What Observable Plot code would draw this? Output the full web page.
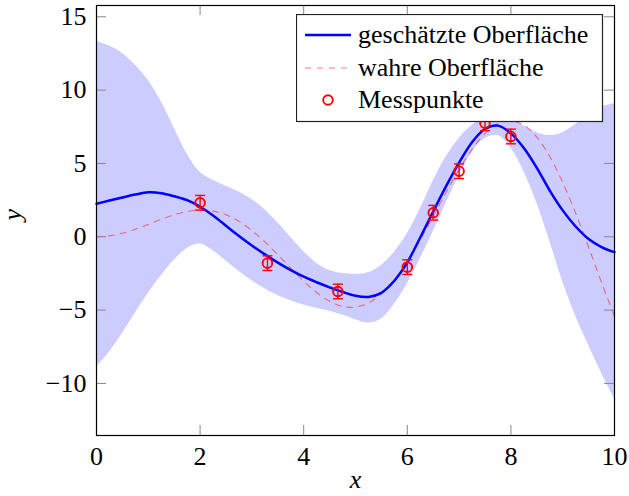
<!DOCTYPE html>
<html>
<head>
<meta charset="utf-8">
<script src="https://cdn.jsdelivr.net/npm/d3@7"></script>
<script src="https://cdn.jsdelivr.net/npm/@observablehq/plot@0.6"></script>
<style>
  body { margin: 0; background: #fff; }
  #chart { position: relative; width: 629px; height: 496px; font-family: "Liberation Serif", "Times New Roman", serif; }
  #legend { position: absolute; left: 296px; top: 14px; }
</style>
</head>
<body>
<div id="chart"></div>
<script>
// Sample positions along x for the curves
const gridX = [0, 0.25, 0.5, 0.75, 1, 1.25, 1.5, 1.75, 2, 2.25, 2.5, 2.75, 3, 3.25, 3.5, 3.75, 4, 4.25, 4.5, 4.75,
  5, 5.25, 5.5, 5.75, 6, 6.25, 6.5, 6.75, 7, 7.25, 7.5, 7.75, 8, 8.25, 8.5, 8.75, 9, 9.25, 9.5, 9.75, 10];

// Estimated surface (mean)
const meanY = [2.25, 2.47, 2.68, 2.88, 3.03, 2.97, 2.76, 2.5, 2.05, 1.45, 0.75, 0.05, -0.6, -1.2, -1.76, -2.27,
  -2.72, -3.1, -3.45, -3.76, -4.02, -4.1, -3.82, -3.0, -1.75, -0.05, 1.72, 3.45, 5.05, 6.45, 7.35, 7.58,
  7.05, 6.05, 4.7, 3.15, 1.8, 0.7, -0.15, -0.7, -1.05];

// Confidence band, upper and lower limit
const upperY = [13.33, 13.0, 12.5, 11.7, 10.65, 9.2, 7.4, 5.65, 4.4, 3.85, 3.45, 3.05, 2.55, 1.85, 0.95, -0.05,
  -1.0, -1.8, -2.3, -2.5, -2.55, -2.45, -1.95, -1.05, 0.2, 1.9, 3.8, 5.45, 6.7, 7.6, 8.15, 8.3,
  8.05, 7.55, 7.1, 6.9, 7.1, 7.65, 8.35, 8.85, 9.07];
const lowerY = [-8.89, -7.85, -6.6, -5.2, -3.85, -2.65, -1.6, -0.8, -0.5, -0.95, -1.65, -2.35, -3.0, -3.55, -4.0, -4.37,
  -4.65, -4.88, -5.08, -5.33, -5.65, -5.88, -5.6, -4.6, -3.2, -1.5, 0.35, 2.3, 4.15, 5.75, 6.7, 6.9,
  6.05, 4.45, 2.3, -0.3, -3.05, -5.4, -7.4, -9.3, -11.04];

// True surface
const trueY = [0, 0.06, 0.24, 0.51, 0.84, 1.19, 1.5, 1.72, 1.82, 1.75, 1.5, 1.05, 0.42, -0.35, -1.23, -2.14,
  -3.03, -3.8, -4.4, -4.75, -4.79, -4.51, -3.88, -2.91, -1.68, -0.21, 1.4, 3.04, 4.6, 5.96, 7.04, 7.71,
  7.91, 7.61, 6.79, 5.47, 3.71, 1.61, -0.71, -3.12, -5.44];

// Measurement points with error
const obsX = [2.0, 3.3, 4.66, 6.0, 6.5, 7.0, 7.5, 8.0];
const obsY = [2.32, -1.8, -3.73, -2.07, 1.64, 4.47, 7.74, 6.84];
const obsErr = [0.5, 0.5, 0.5, 0.5, 0.5, 0.5, 0.5, 0.5];

// Axis ticks
const xTicks = [0, 2, 4, 6, 8, 10];
const yTicks = [-10, -5, 0, 5, 10, 15];

const legendLabels = ["geschätzte Oberfläche", "wahre Oberfläche", "Messpunkte"];

const curve = gridX.map((x, i) => ({x, mean: meanY[i], lo: lowerY[i], hi: upperY[i], tru: trueY[i]}));
const obs = obsX.map((x, i) => ({x, y: obsY[i], e: obsErr[i]}));

const W = 629, H = 496;
const mL = 96, mR = 15, mT = 5, mB = 61;
const innerW = W - mL - mR, innerH = H - mT - mB;
const tickLen = 10;
const fs = 26;
const fmt = d => d < 0 ? "\u2212" + Math.abs(d) : String(d);

// short horizontal stroke used for error bar caps
const cap = { draw(ctx) { ctx.moveTo(-5, 0); ctx.lineTo(5, 0); } };

const chart = Plot.plot({
  width: W, height: H,
  marginLeft: mL, marginRight: mR, marginTop: mT, marginBottom: mB,
  style: { fontFamily: "'Liberation Serif', 'Times New Roman', serif", fontSize: fs + "px", background: "#fff", color: "#000" },
  x: { domain: [0, 10] },
  y: { domain: [-13.55, 15.77] },
  marks: [
    Plot.areaY(curve, { x: "x", y1: "lo", y2: "hi", fill: "#ccccff", curve: "catmull-rom" }),
    Plot.line(curve, { x: "x", y: "tru", stroke: "red", strokeOpacity: 0.5, strokeWidth: 1.1, strokeDasharray: "6,6", curve: "catmull-rom" }),
    Plot.line(curve, { x: "x", y: "mean", stroke: "#0000ff", strokeWidth: 2.5, curve: "catmull-rom" }),
    Plot.ruleX(obs, { x: "x", y1: d => d.y - d.e, y2: d => d.y + d.e, stroke: "red", strokeWidth: 1.4 }),
    Plot.dot(obs, { x: "x", y: d => d.y + d.e, symbol: cap, fill: "none", stroke: "red", strokeWidth: 1.4 }),
    Plot.dot(obs, { x: "x", y: d => d.y - d.e, symbol: cap, fill: "none", stroke: "red", strokeWidth: 1.4 }),
    Plot.dot(obs, { x: "x", y: "y", r: 4.8, fill: "none", stroke: "red", strokeWidth: 1.9 }),
    // inward ticks on all four sides
    Plot.tickX(xTicks, { x: d => d, insetTop: innerH - tickLen, stroke: "#888", strokeWidth: 1 }),
    Plot.tickX(xTicks, { x: d => d, insetBottom: innerH - tickLen, stroke: "#888", strokeWidth: 1 }),
    Plot.tickY(yTicks, { y: d => d, insetRight: innerW - tickLen, stroke: "#888", strokeWidth: 1 }),
    Plot.tickY(yTicks, { y: d => d, insetLeft: innerW - tickLen, stroke: "#888", strokeWidth: 1 }),
    Plot.frame({ stroke: "#000", strokeWidth: 1.2 }),
    Plot.axisX(xTicks, { anchor: "bottom", tickSize: 0, tickPadding: 11, tickFormat: fmt, label: null }),
    Plot.axisY(yTicks, { anchor: "left", tickSize: 0, tickPadding: 10, tickFormat: fmt, label: null }),
    Plot.text(["x"], { frameAnchor: "bottom", dy: 52, fontStyle: "italic", fontSize: fs }),
    Plot.text(["y"], { frameAnchor: "left", dx: -84, rotate: -90, fontStyle: "italic", fontSize: fs })
  ]
});

const host = document.getElementById("chart");
host.appendChild(chart);

// Legend box drawn over the upper right of the plot area
const lw = 307, lh = 108;
const leg = d3.create("svg").attr("id", "legend").attr("width", lw + 1).attr("height", lh + 1)
  .style("font-family", "'Liberation Serif', 'Times New Roman', serif").style("font-size", fs + "px");
leg.append("rect").attr("x", 0.5).attr("y", 0.5).attr("width", lw - 1).attr("height", lh - 1)
  .attr("fill", "#fff").attr("stroke", "#222").attr("stroke-width", 1.2);
const rowY = [21, 54, 86];
leg.append("line").attr("x1", 9).attr("x2", 55).attr("y1", rowY[0]).attr("y2", rowY[0])
  .attr("stroke", "#0000ff").attr("stroke-width", 2.5);
leg.append("line").attr("x1", 9).attr("x2", 55).attr("y1", rowY[1]).attr("y2", rowY[1])
  .attr("stroke", "red").attr("stroke-opacity", 0.5).attr("stroke-width", 1.1).attr("stroke-dasharray", "6,6");
leg.append("circle").attr("cx", 32).attr("cy", rowY[2]).attr("r", 4.8)
  .attr("fill", "none").attr("stroke", "red").attr("stroke-width", 1.9);
legendLabels.forEach((t, i) => {
  leg.append("text").attr("x", 62).attr("y", rowY[i] + 7.5).attr("fill", "#000").text(t);
});
host.appendChild(leg.node());
</script>
</body>
</html>
